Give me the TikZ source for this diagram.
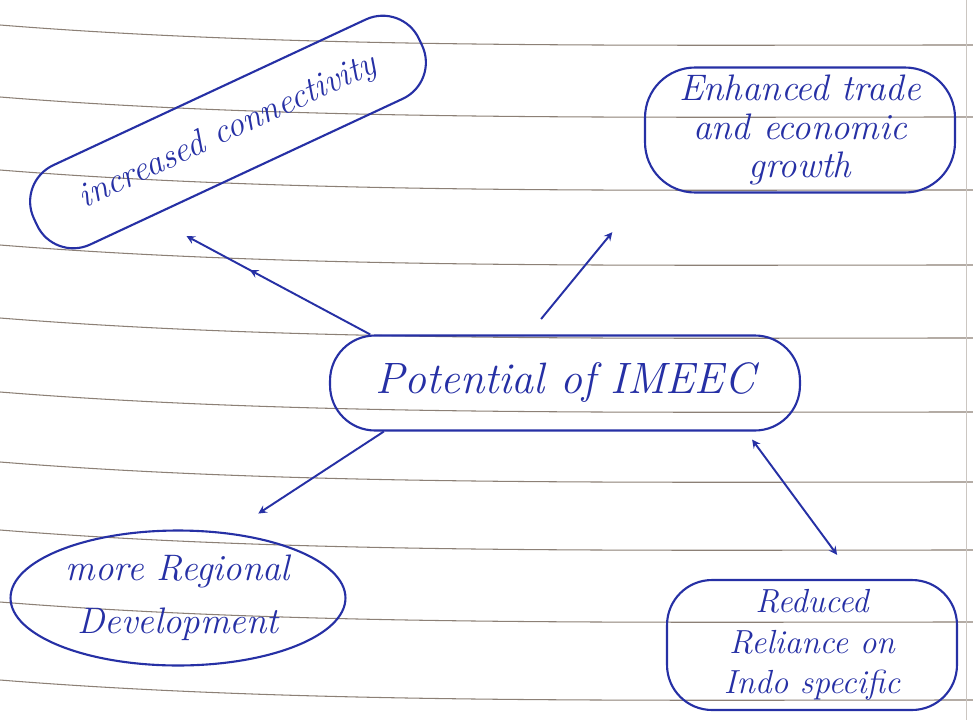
\documentclass[tikz,border=0pt]{standalone}
\usepackage{fontspec}
\usepackage{xcolor}
\usetikzlibrary{shapes.geometric,decorations.markings}
\definecolor{ink}{RGB}{38,48,165}
\definecolor{ruling}{RGB}{140,128,118}

\begin{document}
\begin{tikzpicture}[x=0.02cm,y=-0.02cm,
  bubble/.style={draw=ink,line width=1.2pt,text=ink,align=center,inner sep=1pt,font=\fontsize{21}{22}\selectfont\itshape},
  link/.style={draw=ink,line width=1.1pt,-stealth}]
\useasboundingbox (0,0) rectangle (973,720);
\fill[white] (0,0) rectangle (973,720);
% ruled paper
\foreach \y in {25,97,170,245,318,392,462,530,602,680}
  \draw[ruling,line width=0.6pt] (0,\y) .. controls (300,\y+24) and (640,\y+20) .. (973,\y+20);
\draw[ruling!45,line width=0.4pt] (966,0) -- (966,720);

\node[bubble,rotate=25,rounded corners=0.8cm,minimum width=8.5cm,minimum height=1.75cm,font=\fontsize{20}{24}\selectfont\itshape](conn) at (228,132){increased connectivity};
\node[bubble,rounded corners=1cm,minimum width=6.2cm,minimum height=2.5cm](trade) at (800,130){Enhanced trade\\and economic\\growth};
\node[bubble,rounded corners=0.9cm,minimum width=9.4cm,minimum height=1.9cm,font=\fontsize{25}{28}\selectfont\itshape](pot) at (565,383){Potential of IMEEC};
\node[bubble,ellipse,inner sep=0pt,minimum width=6.7cm,minimum height=2.7cm,font=\fontsize{21}{30}\selectfont\itshape](regdev) at (178,598){more Regional\\Development};
\node[bubble,rounded corners=0.9cm,minimum width=5.8cm,minimum height=2.6cm,inner sep=0pt,font=\fontsize{19}{23}\selectfont\itshape](reli) at (812,645){Reduced\\Reliance on\\Indo specific};

\draw[link,shorten >=0.8cm,postaction={decorate,decoration={markings,mark=at position 0.55 with {\arrow{stealth}}}}] (pot.166) -- (conn.203);
\draw[link,shorten <=0.4cm,shorten >=1cm] (pot.127) -- (trade.south west);
\draw[link,shorten >=0.7cm] (pot.195) -- (regdev.52);
\draw[link,stealth-stealth,shorten <=0.2cm,shorten >=0.6cm] (pot.345) -- (reli.57);
\end{tikzpicture}
\end{document}
